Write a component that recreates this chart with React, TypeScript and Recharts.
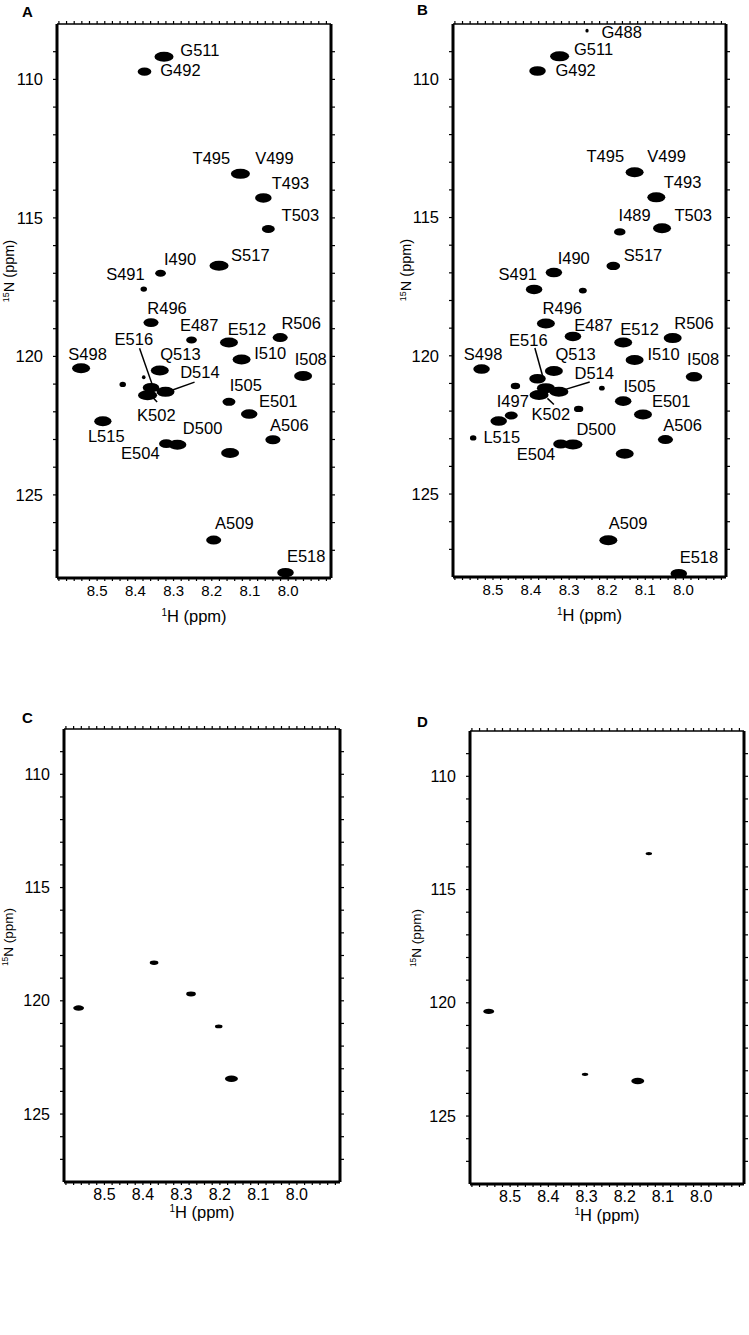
import React from "react";
import { ScatterChart, Scatter, XAxis, YAxis, ReferenceLine } from "recharts";

// axis labels (ppm)
const H_LABELS = [8.5, 8.4, 8.3, 8.2, 8.1, 8.0];
const N_LABELS = [110, 115, 120, 125];
const H_DOMAIN = [7.888, 8.605];
const N_DOMAIN = [108, 128];

// peaks: h = 1H shift, n = 15N shift, i = relative intensity
const peaksA = [
    { h: 8.325, n: 109.18, i: 5.3 },
    { h: 8.376, n: 109.72, i: 3.8 },
    { h: 8.125, n: 113.41, i: 5.3 },
    { h: 8.065, n: 114.28, i: 4.6 },
    { h: 8.052, n: 115.4, i: 3.6 },
    { h: 8.181, n: 116.73, i: 5.3 },
    { h: 8.334, n: 117.0, i: 3.0 },
    { h: 8.378, n: 117.57, i: 1.8 },
    { h: 8.359, n: 118.78, i: 4.2 },
    { h: 8.253, n: 119.41, i: 3.0 },
    { h: 8.155, n: 119.5, i: 5.0 },
    { h: 8.021, n: 119.32, i: 4.2 },
    { h: 8.122, n: 120.11, i: 5.0 },
    { h: 7.961, n: 120.71, i: 5.0 },
    { h: 8.542, n: 120.43, i: 5.0 },
    { h: 8.336, n: 120.51, i: 5.0 },
    { h: 8.433, n: 121.01, i: 1.8 },
    { h: 8.378, n: 120.75, i: 1.0 },
    { h: 8.359, n: 121.13, i: 4.6 },
    { h: 8.368, n: 121.4, i: 5.3 },
    { h: 8.321, n: 121.28, i: 5.0 },
    { h: 8.155, n: 121.64, i: 3.6 },
    { h: 8.102, n: 122.08, i: 4.6 },
    { h: 8.485, n: 122.34, i: 4.8 },
    { h: 8.04, n: 123.01, i: 4.2 },
    { h: 8.319, n: 123.15, i: 4.0 },
    { h: 8.29, n: 123.19, i: 5.0 },
    { h: 8.152, n: 123.49, i: 5.0 },
    { h: 8.195, n: 126.63, i: 4.2 },
    { h: 8.007, n: 127.81, i: 4.6 },
];

const labelsA = [
    { t: "G511", h: 8.231, n: 108.94 },
    { t: "G492", h: 8.282, n: 109.66 },
    { t: "T495", h: 8.201, n: 112.84 },
    { t: "V499", h: 8.036, n: 112.84 },
    { t: "T493", h: 7.994, n: 113.74 },
    { t: "T503", h: 7.968, n: 114.89 },
    { t: "S517", h: 8.099, n: 116.34 },
    { t: "I490", h: 8.283, n: 116.49 },
    { t: "S491", h: 8.426, n: 117.03 },
    { t: "R496", h: 8.317, n: 118.24 },
    { t: "E487", h: 8.233, n: 118.88 },
    { t: "E512", h: 8.108, n: 119.0 },
    { t: "R506", h: 7.966, n: 118.8 },
    { t: "E516", h: 8.404, n: 119.38 },
    { t: "S498", h: 8.525, n: 119.9 },
    { t: "Q513", h: 8.282, n: 119.9 },
    { t: "I510", h: 8.047, n: 119.89 },
    { t: "I508", h: 7.941, n: 120.11 },
    { t: "D514", h: 8.231, n: 120.57 },
    { t: "I505", h: 8.111, n: 121.05 },
    { t: "E501", h: 8.026, n: 121.62 },
    { t: "K502", h: 8.345, n: 122.1 },
    { t: "A506", h: 7.997, n: 122.46 },
    { t: "D500", h: 8.224, n: 122.58 },
    { t: "L515", h: 8.476, n: 122.89 },
    { t: "E504", h: 8.387, n: 123.49 },
    { t: "A509", h: 8.141, n: 126.0 },
    { t: "E518", h: 7.953, n: 127.21 },
];

const leadersA = [
    { h1: 8.389, n1: 119.71, h2: 8.356, n2: 121.01 },
    { h1: 8.245, n1: 120.93, h2: 8.31, n2: 121.25 },
    { h1: 8.343, n1: 121.65, h2: 8.356, n2: 121.46 },
];

const peaksB = [
    { h: 8.253, n: 108.24, i: 0.9 },
    { h: 8.325, n: 109.17, i: 5.3 },
    { h: 8.383, n: 109.7, i: 4.6 },
    { h: 8.128, n: 113.36, i: 5.0 },
    { h: 8.071, n: 114.27, i: 5.0 },
    { h: 8.056, n: 115.39, i: 5.0 },
    { h: 8.167, n: 115.52, i: 3.2 },
    { h: 8.184, n: 116.75, i: 3.8 },
    { h: 8.34, n: 116.99, i: 4.6 },
    { h: 8.392, n: 117.6, i: 4.6 },
    { h: 8.264, n: 117.64, i: 2.2 },
    { h: 8.361, n: 118.83, i: 5.0 },
    { h: 8.29, n: 119.3, i: 4.6 },
    { h: 8.158, n: 119.52, i: 5.0 },
    { h: 8.028, n: 119.36, i: 5.0 },
    { h: 8.128, n: 120.15, i: 5.0 },
    { h: 7.972, n: 120.76, i: 4.6 },
    { h: 8.53, n: 120.48, i: 4.6 },
    { h: 8.34, n: 120.55, i: 5.0 },
    { h: 8.383, n: 120.83, i: 4.6 },
    { h: 8.441, n: 121.09, i: 2.6 },
    { h: 8.214, n: 121.17, i: 1.6 },
    { h: 8.361, n: 121.17, i: 5.0 },
    { h: 8.379, n: 121.42, i: 5.3 },
    { h: 8.327, n: 121.3, i: 5.3 },
    { h: 8.158, n: 121.64, i: 4.6 },
    { h: 8.275, n: 121.92, i: 2.6 },
    { h: 8.106, n: 122.12, i: 5.0 },
    { h: 8.452, n: 122.16, i: 3.6 },
    { h: 8.485, n: 122.36, i: 4.6 },
    { h: 8.552, n: 122.97, i: 1.8 },
    { h: 8.047, n: 123.03, i: 4.2 },
    { h: 8.322, n: 123.19, i: 4.2 },
    { h: 8.29, n: 123.21, i: 5.3 },
    { h: 8.154, n: 123.54, i: 5.0 },
    { h: 8.197, n: 126.67, i: 5.0 },
    { h: 8.012, n: 127.88, i: 4.6 },
];

const labelsB = [
    { t: "G488", h: 8.162, n: 108.3 },
    { t: "G511", h: 8.236, n: 108.91 },
    { t: "G492", h: 8.283, n: 109.66 },
    { t: "T495", h: 8.205, n: 112.79 },
    { t: "V499", h: 8.044, n: 112.79 },
    { t: "T493", h: 8.002, n: 113.73 },
    { t: "I489", h: 8.128, n: 114.91 },
    { t: "T503", h: 7.974, n: 114.91 },
    { t: "S517", h: 8.106, n: 116.36 },
    { t: "I490", h: 8.288, n: 116.48 },
    { t: "S491", h: 8.435, n: 117.03 },
    { t: "R496", h: 8.318, n: 118.27 },
    { t: "E487", h: 8.236, n: 118.87 },
    { t: "E512", h: 8.115, n: 119.03 },
    { t: "R506", h: 7.972, n: 118.83 },
    { t: "E516", h: 8.407, n: 119.42 },
    { t: "S498", h: 8.526, n: 119.94 },
    { t: "Q513", h: 8.283, n: 119.92 },
    { t: "I510", h: 8.052, n: 119.92 },
    { t: "I508", h: 7.948, n: 120.12 },
    { t: "D514", h: 8.234, n: 120.61 },
    { t: "I505", h: 8.115, n: 121.09 },
    { t: "I497", h: 8.448, n: 121.64 },
    { t: "E501", h: 8.032, n: 121.64 },
    { t: "K502", h: 8.348, n: 122.12 },
    { t: "A506", h: 8.002, n: 122.51 },
    { t: "D500", h: 8.229, n: 122.63 },
    { t: "L515", h: 8.477, n: 122.95 },
    { t: "E504", h: 8.387, n: 123.55 },
    { t: "A509", h: 8.145, n: 126.06 },
    { t: "E518", h: 7.959, n: 127.27 },
];

const leadersB = [
    { h1: 8.39, n1: 119.72, h2: 8.366, n2: 120.91 },
    { h1: 8.246, n1: 120.95, h2: 8.318, n2: 121.25 },
    { h1: 8.34, n1: 121.76, h2: 8.357, n2: 121.54 },
];

const peaksC = [
    { h: 8.567, n: 120.32, i: 3.0 },
    { h: 8.371, n: 118.32, i: 2.4 },
    { h: 8.275, n: 119.7, i: 2.7 },
    { h: 8.203, n: 121.13, i: 2.1 },
    { h: 8.17, n: 123.44, i: 3.6 },
];

const peaksD = [
    { h: 8.556, n: 120.38, i: 3.0 },
    { h: 8.137, n: 113.41, i: 1.8 },
    { h: 8.304, n: 123.16, i: 1.8 },
    { h: 8.166, n: 123.45, i: 3.6 },
];

const FONT = "'Liberation Sans', Arial, Helvetica, sans-serif";

const hTicks: number[] = [];
for (let k = 0; k <= 35; k++) hTicks.push(Math.round((7.9 + 0.02 * k) * 100) / 100);
const nTicks: number[] = [];
for (let v = 109; v <= 127; v++) nTicks.push(v);

const hFmt = (v: number) => (H_LABELS.some((l) => Math.abs(l - v) < 1e-6) ? v.toFixed(1) : "");
const nFmt = (v: number) => (N_LABELS.includes(v) ? String(v) : "");

const peakShape = (flat: boolean) => (p: any) => {
    const rx = 1.8 * p.payload.i;
    const ry = flat ? rx * 0.5 : Math.min(5, 1.2 + 0.78 * p.payload.i);
    return <ellipse cx={p.cx} cy={p.cy} rx={rx} ry={ry} fill="#000" />;
};

const labelShape = (p: any) => (
    <text x={p.cx} y={p.cy} textAnchor="middle" dominantBaseline="central"
        fontSize={16.5} fontFamily={FONT} fill="#000">{p.payload.t}</text>
);

// axis band sizes (px) used for the chart offsets
const YL_W = 40;
const YR_W = 4;
const XB_H = 30;
const XT_H = 4;

interface PanelProps {
    letter: string;
    box: { x: number; y: number; w: number; h: number };
    plot: { top: number; right: number; bottom: number; left: number };
    peaks: { h: number; n: number; i: number }[];
    labels?: { t: string; h: number; n: number }[];
    leaders?: { h1: number; n1: number; h2: number; n2: number }[];
    flat?: boolean;
    xTickFont: number;
    yTickFont: number;
    yTitle: { x: number; y: number; size: number };
    xTitleDy: number;
    letterPos: { x: number; y: number };
}

function Panel({ letter, box, plot, peaks, labels = [], leaders = [], flat = false,
    xTickFont, yTickFont, yTitle, xTitleDy, letterPos }: PanelProps) {
    const margin = {
        top: plot.top - XT_H,
        right: plot.right - YR_W,
        bottom: plot.bottom - XB_H,
        left: plot.left - YL_W,
    };
    const plotCx = plot.left + (box.w - plot.left - plot.right) / 2;
    const plotBottom = box.h - plot.bottom;
    const thick = { stroke: "#000", strokeWidth: 3 };
    const tl = { stroke: "#000", strokeWidth: 1.2 };
    return (
        <div style={{ position: "absolute", left: box.x, top: box.y, width: box.w, height: box.h }}>
            <ScatterChart width={box.w} height={box.h} margin={margin}>
                <XAxis xAxisId="b" type="number" dataKey="h" domain={H_DOMAIN} reversed allowDataOverflow
                    ticks={hTicks} interval={0} height={XB_H} tickFormatter={hFmt}
                    axisLine={thick} tickLine={tl} tickSize={3} tickMargin={4}
                    tick={{ fill: "#000", fontSize: xTickFont, fontFamily: FONT }} />
                <XAxis xAxisId="t" orientation="top" type="number" dataKey="h" domain={H_DOMAIN} reversed allowDataOverflow
                    ticks={hTicks} interval={0} height={XT_H} tickFormatter={() => ""}
                    axisLine={{ stroke: "#000", strokeWidth: 1.5 }} tickLine={tl} tickSize={3} />
                <YAxis yAxisId="l" type="number" dataKey="n" domain={N_DOMAIN} reversed allowDataOverflow
                    ticks={nTicks} interval={0} width={YL_W} tickFormatter={nFmt}
                    axisLine={thick} tickLine={tl} tickSize={4} tickMargin={10}
                    tick={{ fill: "#000", fontSize: yTickFont, fontFamily: FONT }} />
                <YAxis yAxisId="r" orientation="right" type="number" dataKey="n" domain={N_DOMAIN} reversed allowDataOverflow
                    ticks={nTicks} interval={0} width={YR_W} tickFormatter={() => ""}
                    axisLine={thick} tickLine={tl} tickSize={4} />
                <Scatter xAxisId="b" yAxisId="l" data={peaks} shape={peakShape(flat)} isAnimationActive={false} />
                {leaders.map((s, k) => (
                    <ReferenceLine key={k} xAxisId="b" yAxisId="l"
                        segment={[{ x: s.h1, y: s.n1 }, { x: s.h2, y: s.n2 }]}
                        stroke="#000" strokeWidth={1.5} />
                ))}
                {labels.length > 0 && (
                    <Scatter xAxisId="b" yAxisId="l" data={labels} shape={labelShape} isAnimationActive={false} />
                )}
            </ScatterChart>
            <svg width={box.w} height={box.h} style={{ position: "absolute", left: 0, top: 0, pointerEvents: "none" }}>
                <text x={letterPos.x} y={letterPos.y} fontSize={15} fontWeight="bold" fontFamily={FONT}>{letter}</text>
                <text x={plotCx} y={plotBottom + xTitleDy} textAnchor="middle" fontSize={16.5} fontFamily={FONT}>
                    <tspan fontSize={10} dy={-6}>1</tspan>
                    <tspan dy={6}>H (ppm)</tspan>
                </text>
                <text transform={`translate(${yTitle.x},${yTitle.y}) rotate(-90)`} textAnchor="middle"
                    fontSize={yTitle.size} fontFamily={FONT}>
                    <tspan fontSize={yTitle.size * 0.62} dy={-yTitle.size * 0.38}>15</tspan>
                    <tspan dy={yTitle.size * 0.38}>N (ppm)</tspan>
                </text>
            </svg>
        </div>
    );
}

export default function App() {
    return (
        <div style={{ position: "absolute", left: 0, top: 0, width: 749, height: 1335, background: "#fff" }}>
            <Panel letter="A" box={{ x: 0, y: 0, w: 374, h: 640 }}
                plot={{ top: 24, right: 43, bottom: 62, left: 57 }}
                peaks={peaksA} labels={labelsA} leaders={leadersA}
                xTickFont={15} yTickFont={16.5} xTitleDy={44}
                yTitle={{ x: 14, y: 271, size: 14.5 }} letterPos={{ x: 22, y: 17 }} />
            <Panel letter="B" box={{ x: 374, y: 0, w: 375, h: 640 }}
                plot={{ top: 24, right: 23, bottom: 63, left: 79 }}
                peaks={peaksB} labels={labelsB} leaders={leadersB}
                xTickFont={15} yTickFont={16.5} xTitleDy={44}
                yTitle={{ x: 37, y: 270, size: 14.5 }} letterPos={{ x: 43, y: 15 }} />
            <Panel letter="C" box={{ x: 0, y: 700, w: 374, h: 560 }}
                plot={{ top: 29, right: 34, bottom: 78, left: 64 }}
                peaks={peaksC} flat
                xTickFont={16} yTickFont={16} xTitleDy={36}
                yTitle={{ x: 13, y: 237, size: 13.5 }} letterPos={{ x: 22, y: 23 }} />
            <Panel letter="D" box={{ x: 374, y: 700, w: 375, h: 560 }}
                plot={{ top: 31, right: 5, bottom: 76, left: 96 }}
                peaks={peaksD} flat
                xTickFont={16} yTickFont={16} xTitleDy={37}
                yTitle={{ x: 47, y: 238, size: 13.5 }} letterPos={{ x: 43, y: 27 }} />
        </div>
    );
}
